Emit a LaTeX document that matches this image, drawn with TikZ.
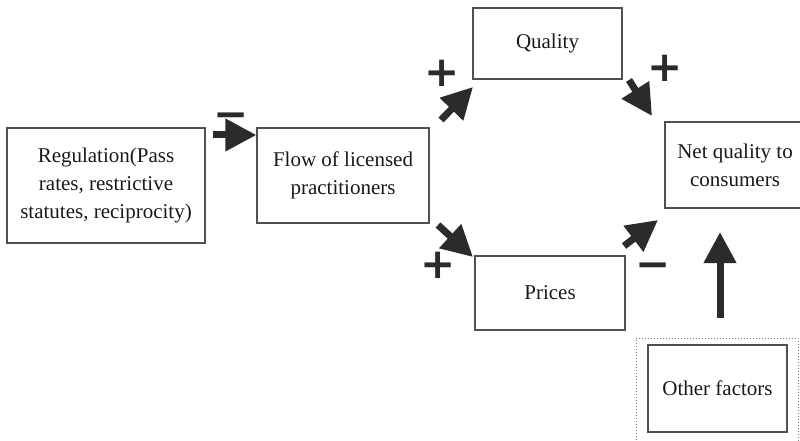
\documentclass[tikz,border=0pt]{standalone}
\usepackage{fontspec}
\setmainfont{Liberation Serif}
\newfontfamily\signfont{DejaVu Sans}
\usetikzlibrary{arrows.meta}
\definecolor{arr}{HTML}{2B2B2B}
\definecolor{boxc}{HTML}{505050}
\begin{document}
\begin{tikzpicture}[x=1pt,y=-1pt,
 box/.style={draw=boxc, line width=1.2pt, align=center, inner sep=0pt, font=\fontsize{21}{28}\selectfont, text=black!90},
 fat/.style={draw=arr, line width=7pt, -{Triangle[length=31pt,width=31pt]}},
 sign/.style={font=\fontsize{42}{42}\signfont\bfseries, text=arr, inner sep=0pt}]
\useasboundingbox (0,0) rectangle (800,441);
\node[box, minimum width=198pt, minimum height=115pt] (reg) at (106,185.5) {Regulation(Pass\\rates, restrictive\\statutes, reciprocity)};
\node[box, minimum width=172pt, minimum height=95pt] (flow) at (343,175.5) {Flow of licensed\\practitioners};
\node[box, minimum width=149pt, minimum height=71pt] (quality) at (547.5,43.5) {Quality};
\node[box, minimum width=150pt, minimum height=74pt] (prices) at (550,293) {Prices};
\node[box, minimum width=140pt, minimum height=86pt] (net) at (735,165) {Net quality to\\consumers};
\node[draw=gray, dotted, line width=1pt, minimum width=162pt, minimum height=103pt, inner sep=0pt] (dotbox) at (717,389.5) {};
\node[box, minimum width=139pt, minimum height=87pt] (other) at (717.5,388.5) {Other factors};
% arrows
\coordinate (a1s) at (213,135);
\draw[fat] (a1s) -- (flow.west |- a1s);
\coordinate (a2s) at (441,120);
\coordinate (a2e) at (473,87);
\draw[fat] (a2s) -- (a2e);
\coordinate (a3s) at (629,80);
\coordinate (a3e) at (652,116);
\draw[fat] (a3s) -- (a3e);
\coordinate (a4s) at (438,225);
\coordinate (a4e) at (473,257);
\draw[fat] (a4s) -- (a4e);
\coordinate (a5s) at (624,246);
\coordinate (a5e) at (658,220);
\draw[fat] (a5s) -- (a5e);
\coordinate (a6s) at (720,318);
\coordinate (a6e) at (720,232);
\draw[fat] (a6s) -- (a6e);
% signs
\node[sign] (s1) at (231,121) {−};
\node[sign] (s2) at (442,73) {+};
\node[sign] (s3) at (665,68) {+};
\node[sign] (s4) at (438,265) {+};
\node[sign] (s5) at (653,271) {−};
\end{tikzpicture}
\end{document}
